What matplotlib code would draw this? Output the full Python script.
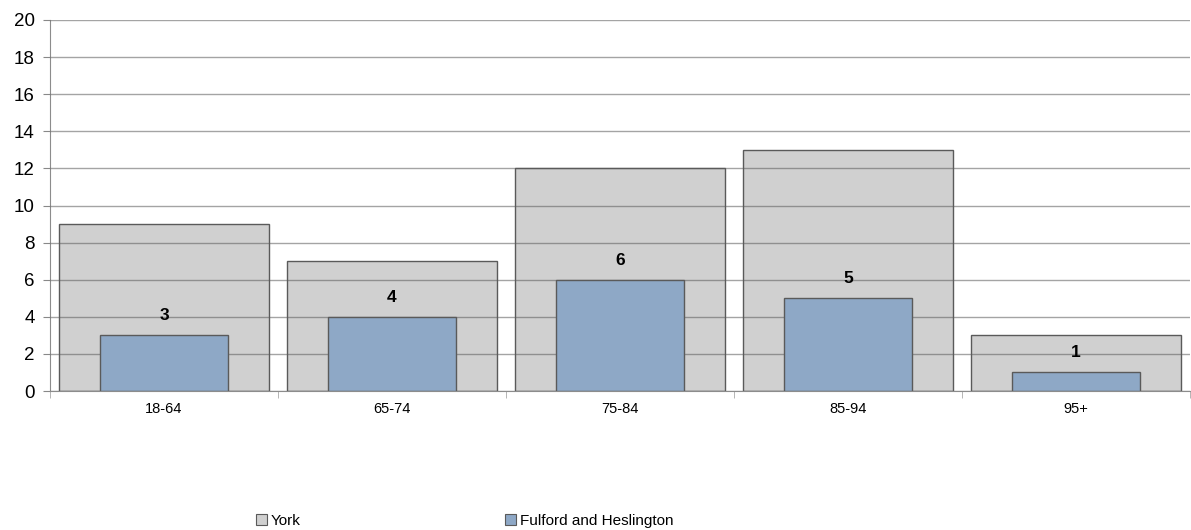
import matplotlib
matplotlib.use("Agg")
import matplotlib.pyplot as plt
from matplotlib.patches import Patch
import numpy as np

categories = ["18-64", "65-74", "75-84", "85-94", "95+"]
york = [9, 7, 12, 13, 3]
fulford = [3, 4, 6, 5, 1]

plt.rcParams['font.family'] = ['Liberation Sans', 'DejaVu Sans']

fig = plt.figure(figsize=(11.91, 5.30), dpi=100)
ax = fig.add_axes([50/1191, 1-391/530, 1140/1191, 371/530])

x = np.arange(len(categories))
gray = "#D0D0D0"
blue = "#8EA8C6"
edge = "#5A5A5A"

ax.bar(x, york, width=0.92, color=gray, edgecolor=edge, linewidth=1, zorder=2)
ax.bar(x, fulford, width=0.56, color=blue, edgecolor=edge, linewidth=1, zorder=3)

for xi, v in zip(x, fulford):
    ax.text(xi, v + 1.05, str(v), ha="center", va="center", fontsize=12.5, fontweight="bold", zorder=6)

ax.set_xlim(-0.5, len(categories) - 0.5)
ax.set_ylim(0, 20)
ax.set_yticks(np.arange(0, 21, 2))
ax.tick_params(axis='y', labelsize=13.5, length=5, color="#888888", pad=6)
ax.set_xticks(x)
ax.set_xticklabels(categories, fontsize=10.5)
ax.set_xticks(np.arange(-0.5, len(categories), 1), minor=True)
ax.tick_params(axis='x', which='major', length=0, pad=8)
ax.tick_params(axis='x', which='minor', length=5, color="#AAAAAA")
ax.yaxis.grid(True, color="#5A5A5A", alpha=0.55, linewidth=1.0, zorder=5)
ax.set_axisbelow(False)
for s in ["top", "right"]:
    ax.spines[s].set_visible(False)
ax.spines["left"].set_color("#8C8C8C")
ax.spines["bottom"].set_color("#8C8C8C")
ax.spines["bottom"].set_zorder(6)

h1 = Patch(facecolor=gray, edgecolor=edge, linewidth=0.8)
h2 = Patch(facecolor=blue, edgecolor=edge, linewidth=0.8)
kw = dict(frameon=False, prop={'size': 11}, handlelength=0.7, handleheight=0.7,
          handletextpad=0.25, borderaxespad=0, borderpad=0)
fig.legend([h1], ["York"], loc="center left", bbox_to_anchor=(256/1191, 1-521/530), **kw)
fig.legend([h2], ["Fulford and Heslington"], loc="center left", bbox_to_anchor=(505/1191, 1-521/530), **kw)

fig.savefig("out.png", dpi=100)
